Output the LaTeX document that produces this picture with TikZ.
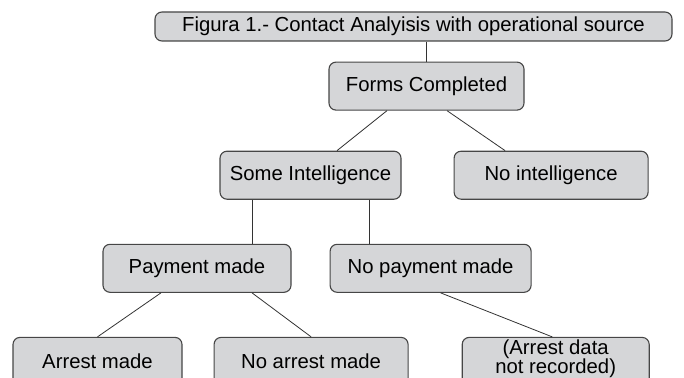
\documentclass[tikz,border=0pt]{standalone}
\usepackage{fontspec}
\setmainfont{Liberation Sans}
\usetikzlibrary{positioning}
\definecolor{boxgray}{RGB}{213,214,216}
\definecolor{edgegray}{RGB}{70,70,70}

\begin{document}
\begin{tikzpicture}[
    x=1pt, y=-1pt,
    box/.style={rectangle, draw=edgegray, line width=1.1pt, rounded corners=7pt, fill=boxgray, minimum height=48pt, inner sep=0pt, align=center, font=\fontsize{20.3}{22}\selectfont},
    link/.style={draw=black!80, line width=0.8pt}
  ]
    \useasboundingbox (0,0) rectangle (684,377);

    % Row 0: title, Forms Completed
    \node[box, minimum width=517pt, minimum height=29pt] (title) at (413.5,26.5) {Figura 1.- Contact Analyisis with operational source};
    \node[box, minimum width=195pt, below=20pt of title, xshift=13pt] (forms) {Forms Completed};

    % Row 1: Some Intelligence, No intelligence
    \node[box, minimum width=181pt, below=40pt of forms, xshift=-116pt] (some) {Some Intelligence};
    \node[box, minimum width=194pt, right=52pt of some] (noint) {No intelligence};

    % Row 2: Payment made, No payment made
    \node[box, minimum width=188pt, below=44pt of some, xshift=-113.5pt] (pay) {Payment made};
    \node[box, minimum width=201pt, right=38pt of pay] (nopay) {No payment made};

    % Row 3: outcomes
    \node[box, minimum width=169pt, below=44pt of pay, xshift=-99.5pt] (arrest) {Arrest made};
    \node[box, minimum width=194pt, right=31pt of arrest] (noarrest) {No arrest made};
    \node[box, minimum width=187pt, right=53pt of noarrest, text depth=9pt] (nodata) {(Arrest data\\[-3pt]not recorded)};

    % Relations
    \draw[link] (title.south -| forms.north) -- (forms.north);
    \draw[link] ([xshift=-39.5pt]forms.south) -- ([xshift=26.5pt]some.north);
    \draw[link] ([xshift=20.5pt]forms.south) -- ([xshift=-46pt]noint.north);

    \draw[link] ([xshift=-58.5pt]some.south) -- ([xshift=-58.5pt]some.south |- pay.north);
    \draw[link] ([xshift=58.5pt]some.south) -- ([xshift=58.5pt]some.south |- nopay.north);

    \draw[link] ([xshift=-36pt]pay.south) -- (arrest.north);
    \draw[link] ([xshift=55pt]pay.south) -- (noarrest.north);
    \draw[link] ([xshift=10pt]nopay.south) -- ([xshift=-3.5pt]nodata.north);
  \end{tikzpicture}
\end{document}
